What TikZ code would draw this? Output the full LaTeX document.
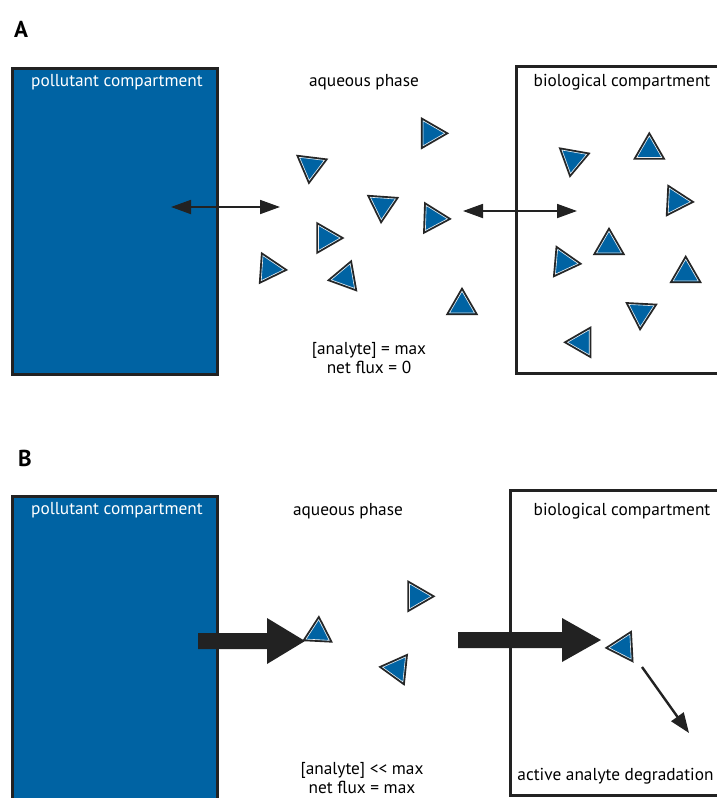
\documentclass[tikz,border=0pt]{standalone}
\usepackage{fontspec}
\setmainfont{PT Sans}
\usetikzlibrary{arrows.meta}
\definecolor{pblue}{HTML}{0063A3}
\definecolor{ink}{HTML}{222222}
\tikzset{
  txt/.style={inner sep=0pt, font=\fontsize{17.3}{19}\selectfont, text=black},
  wtxt/.style={txt, text=white},
  panel/.style={inner sep=0pt, font=\fontsize{23}{25}\selectfont\bfseries},
  pollbox/.style={fill=pblue, draw=ink, line width=3pt},
  biobox/.style={draw=ink, line width=3pt},
  dbl/.style={draw=ink, line width=1.8pt, {Triangle[length=20pt,width=14pt]}-{Triangle[length=20pt,width=14pt]}},
  thin/.style={draw=ink, line width=2.4pt, -{Triangle[length=20pt,width=15pt]}},
  bigarrow/.style={fill=ink},
  pics/tri/.style args={#1/#2}{code={
    \filldraw[fill=pblue, draw=black!85, line width=1.8pt, line join=miter]
      (#1:#2) -- (#1+120:#2) -- (#1+240:#2) -- cycle;
    \draw[white!85!gray, line width=0.6pt, line join=miter]
      (#1:#2-2.6) -- (#1+120:#2-2.6) -- (#1+240:#2-2.6) -- cycle;
  }}
}
\begin{document}
\begin{tikzpicture}[x=1pt, y=-1pt]
\useasboundingbox (0,0) rectangle (717,798);
\clip (0,0) rectangle (717,798);
\fill[white] (0,0) rectangle (717,798);

% ---------- Panel A ----------
\node[panel] (A) at (21,29) {A};
\draw[pollbox] (12,68) rectangle (217,374);
\draw[biobox] (516,66) rectangle (740,373);
\node[wtxt] (polA) at (117,82) {pollutant compartment};
\node[txt] (aqA) at (364,82) {aqueous phase};
\node[txt] (bioA) at (622,82) {biological compartment};
\node[txt, align=center] (statA) at (369,358) {[analyte] = max\\net flux = 0};

\coordinate (a1l) at (171,207);
\coordinate (a1r) at (280,207);
\coordinate (a2l) at (463,211);
\coordinate (a2r) at (577,211);
\draw[dbl] (a1l) -- (a1r);
\draw[dbl] (a2l) -- (a2r);

\pic at (311,166) {tri={97/17}};
\pic at (325.7,238) {tri={0/17}};
\pic at (269.3,268.7) {tri={4/17}};
\pic at (345.3,277.3) {tri={170/17}};
\pic at (430.3,133.3) {tri={0/17}};
\pic at (382.3,205.3) {tri={94/17}};
\pic at (433,218.3) {tri={2/17}};
\pic at (462,305.7) {tri={-90/17}};
\pic at (573,159.3) {tri={100/17}};
\pic at (649.3,150.3) {tri={-90/17}};
\pic at (676,201) {tri={3/17}};
\pic at (609,245.7) {tri={-90/17}};
\pic at (563.7,262.3) {tri={5/17}};
\pic at (685.7,273.7) {tri={-90/17}};
\pic at (641,312.3) {tri={93/17}};
\pic at (582,342.3) {tri={180/17}};

% ---------- Panel B ----------
\node[panel] (B) at (25,458) {B};
\draw[pollbox] (12,496) rectangle (217,820);
\draw[biobox] (510,490) rectangle (740,795);
\node[wtxt] (polB) at (117,510) {pollutant compartment};
\node[txt] (aqB) at (348,511) {aqueous phase};
\node[txt] (bioB) at (622,511) {biological compartment};
\node[txt] (degB) at (615.5,776.5) {active analyte degradation};
\node[txt, align=center] (statB) at (362,778) {[analyte] <{}< max\\net flux = max};

\fill[bigarrow] (198,633) -- (267,633) -- (267,618) -- (305,641) -- (267,664) -- (267,649) -- (198,649) -- cycle;
\fill[bigarrow] (458,632) -- (562,632) -- (562,618) -- (601,640) -- (562,662) -- (562,648) -- (458,648) -- cycle;

\pic at (318,633) {tri={-87/16}};
\pic at (416.7,596.3) {tri={0/17}};
\pic at (397,668.7) {tri={186/17}};
\pic at (623.3,647) {tri={177/17}};

\coordinate (dgs) at (642,667);
\coordinate (dge) at (689,733);
\draw[thin] (dgs) -- (dge);
\end{tikzpicture}
\end{document}
